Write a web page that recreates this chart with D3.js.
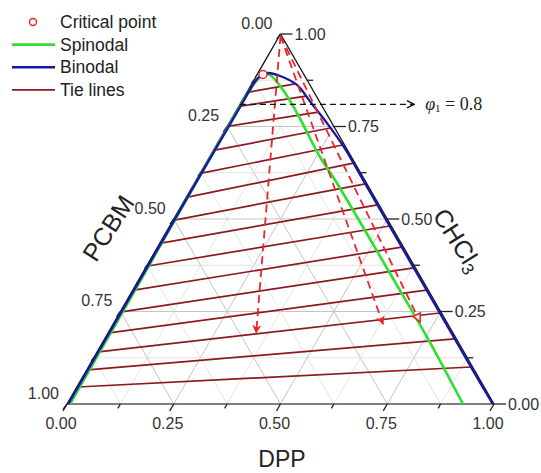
<!DOCTYPE html>
<html>
<head>
<meta charset="utf-8">
<script src="https://cdn.jsdelivr.net/npm/d3@7"></script>
<style>
  body { margin: 0; background: #fff; }
  text { font-family: "Liberation Sans", Arial, sans-serif; }
</style>
</head>
<body>
<script>
// compositions are [DPP, CHCl3]; PCBM = 1 - DPP - CHCl3
const criticalPoint = [0.0137, 0.8905];

const binodalLeft = [[0.0137, 0.8905], [0.008, 0.884], [0.005, 0.875], [0.004, 0.80], [0.003, 0.6], [0.003, 0.3], [0.003, 0]];
const binodalRight = [[0.0137, 0.8905], [0.023, 0.8946], [0.056, 0.8865], [0.1075, 0.8622], [0.160, 0.818],
  [0.229, 0.7595], [0.303, 0.693], [0.40, 0.596], [0.55, 0.446], [0.75, 0.246], [0.90, 0.096], [0.997, 0]];

const spinodalLeft = [[0.0137, 0.8905], [0.006, 0.87], [0.003, 0.75], [0.004, 0.5], [0.006, 0.25], [0.007, 0]];
const spinodalRight = [[0.0137, 0.8905], [0.031, 0.889], [0.0816, 0.8486], [0.1454, 0.7865], [0.2587, 0.6676],
  [0.325, 0.6054], [0.579, 0.354], [0.7526, 0.181], [0.9274, 0]];

// CHCl3 fraction at each end of the tie lines
const tieLeftCHCl3 = [0.843, 0.805, 0.751, 0.686, 0.624, 0.559, 0.497, 0.435, 0.373, 0.308, 0.249, 0.192, 0.141, 0.092, 0.046];
const tieRightCHCl3 = [0.865, 0.832, 0.789, 0.746, 0.700, 0.651, 0.595, 0.538, 0.481, 0.424, 0.368, 0.308, 0.246, 0.176, 0.100];

// red dashed arrows start at the CHCl3 corner
const arrowEnds = [[0.347, 0.192], [0.632, 0.216], [0.716, 0.222]];
const phiLine = { chcl3: 0.81, dppFrom: 0, dppTo: 0.408 };

const tickValues = [0, 0.25, 0.5, 0.75, 1];
const tickLabels = ["0.00", "0.25", "0.50", "0.75", "1.00"];
const minorValues = [0.125, 0.375, 0.625, 0.875];

const legendItems = ["Critical point", "Spinodal", "Binodal", "Tie lines"];

const width = 541, height = 473;
const blue = "#1616a8", green = "#2ee02e", tieColor = "#8a1a1f", red = "#e8262b";

const svg = d3.select("body").append("svg")
  .attr("width", width)
  .attr("height", height);

const x = d3.scaleLinear().domain([0, 1]).range([67, 494]);
const y = d3.scaleLinear().domain([0, 1]).range([404, 34]);
const px = (d, c) => x(d + c / 2);

const line = d3.line()
  .x(p => px(p[0], p[1]))
  .y(p => y(p[1]))
  .curve(d3.curveCatmullRom.alpha(0.5));

const defs = svg.append("defs");
defs.append("marker").attr("id", "headRed")
  .attr("viewBox", "0 0 10 10").attr("refX", 9).attr("refY", 5)
  .attr("markerWidth", 9).attr("markerHeight", 9).attr("markerUnits", "userSpaceOnUse")
  .attr("orient", "auto")
  .append("path").attr("d", "M0,0 L10,5 L0,10 L3,5 Z").attr("fill", red);
defs.append("marker").attr("id", "headOpen")
  .attr("viewBox", "0 0 10 10").attr("refX", 9).attr("refY", 5)
  .attr("markerWidth", 10).attr("markerHeight", 10).attr("markerUnits", "userSpaceOnUse")
  .attr("orient", "auto")
  .append("path").attr("d", "M1,1 L9,5 L1,9 Z").attr("fill", "#fff").attr("stroke", red).attr("stroke-width", 1.6);
defs.append("marker").attr("id", "headBlack")
  .attr("viewBox", "0 0 10 10").attr("refX", 9).attr("refY", 5)
  .attr("markerWidth", 9).attr("markerHeight", 9).attr("markerUnits", "userSpaceOnUse")
  .attr("orient", "auto")
  .append("path").attr("d", "M1,1 L9,5 L1,9").attr("fill", "none").attr("stroke", "#111").attr("stroke-width", 1.6);

// grid
const grid = svg.append("g");
const gridVals = d3.range(1, 8).map(i => i / 8);
gridVals.forEach(v => {
  const major = Math.abs(v * 4 - Math.round(v * 4)) < 1e-9;
  const col = major ? "#c4c4c4" : "#e4e4e4";
  const segs = [
    [[0, v], [1 - v, v]],       // const CHCl3
    [[v, 0], [v, 1 - v]],       // const DPP
    [[0, 1 - v], [1 - v, 0]]    // const PCBM
  ];
  segs.forEach(s => {
    grid.append("line")
      .attr("x1", px(s[0][0], s[0][1])).attr("y1", y(s[0][1]))
      .attr("x2", px(s[1][0], s[1][1])).attr("y2", y(s[1][1]))
      .attr("stroke", col).attr("stroke-width", 1);
  });
});

// triangle frame
svg.append("line").attr("x1", x(0)).attr("y1", y(0)).attr("x2", x(1)).attr("y2", y(0))
  .attr("stroke", "#555").attr("stroke-width", 1.6);
svg.append("line").attr("x1", x(1)).attr("y1", y(0)).attr("x2", px(0, 1)).attr("y2", y(1))
  .attr("stroke", "#111").attr("stroke-width", 1.3);
svg.append("line").attr("x1", x(0)).attr("y1", y(0)).attr("x2", px(0, 1)).attr("y2", y(1))
  .attr("stroke", "#111").attr("stroke-width", 1.3);

// ticks and labels
const allTicks = tickValues.map(v => ({ v, major: true })).concat(minorValues.map(v => ({ v, major: false })));
const axes = svg.append("g").attr("stroke", "#222").attr("stroke-width", 1.3);
allTicks.forEach(t => {
  const len = t.major ? 8 : 5;
  // bottom: DPP
  const bx = x(t.v), by = y(0);
  axes.append("line").attr("x1", bx).attr("y1", by).attr("x2", bx - 0.5 * len).attr("y2", by + 0.866 * len);
  // right: CHCl3
  const rx = px(1 - t.v, t.v), ry = y(t.v);
  axes.append("line").attr("x1", rx).attr("y1", ry).attr("x2", rx + (t.major ? 12 : 6)).attr("y2", ry);
  // left: PCBM
  const lx = px(0, 1 - t.v), ly = y(1 - t.v);
  axes.append("line").attr("x1", lx).attr("y1", ly).attr("x2", lx - 0.6 * len * 0.8).attr("y2", ly + 0.8 * len * 0.8);
});

const labels = svg.append("g").attr("font-size", 16).attr("fill", "#333");
tickValues.forEach((v, i) => {
  labels.append("text").attr("x", x(v) - 6).attr("y", y(0) + 19)
    .attr("text-anchor", "middle").attr("dominant-baseline", "central").text(tickLabels[i]);
  labels.append("text").attr("x", px(1 - v, v) + 14).attr("y", y(v))
    .attr("dominant-baseline", "central").text(tickLabels[i]);
  labels.append("text").attr("x", px(0, 1 - v) - 8).attr("y", y(1 - v) - 11)
    .attr("text-anchor", "end").attr("dominant-baseline", "central").text(tickLabels[i]);
});

// axis titles
svg.append("text").attr("x", 282).attr("y", 459).attr("text-anchor", "middle")
  .attr("dominant-baseline", "central").attr("font-size", 23).attr("fill", "#222").text("DPP");
svg.append("text").attr("transform", "translate(108,228) rotate(-57)").attr("text-anchor", "middle")
  .attr("dominant-baseline", "central").attr("font-size", 25).attr("fill", "#222").text("PCBM");
const chcl = svg.append("text").attr("transform", "translate(458,240) rotate(58)").attr("text-anchor", "middle")
  .attr("dominant-baseline", "central").attr("font-size", 25).attr("fill", "#222");
chcl.append("tspan").text("CHCl");
chcl.append("tspan").attr("font-size", 17).attr("dy", 7).text("3");

// tie lines
const leftD = d3.scaleLinear().domain(binodalLeft.map(p => p[1])).range(binodalLeft.map(p => p[0]));
const rightBranch = binodalRight.slice(1);
const rightD = d3.scaleLinear().domain(rightBranch.map(p => p[1])).range(rightBranch.map(p => p[0]));
const ties = svg.append("g").attr("stroke", tieColor).attr("stroke-width", 1.7);
tieLeftCHCl3.forEach((cl, i) => {
  const cr = tieRightCHCl3[i];
  const dl = leftD(cl), dr = rightD(cr);
  ties.append("line")
    .attr("x1", px(dl, cl)).attr("y1", y(cl))
    .attr("x2", px(dr, cr)).attr("y2", y(cr));
});

// spinodal and binodal
[spinodalLeft, spinodalRight].forEach(s => {
  svg.append("path").attr("d", line(s)).attr("fill", "none").attr("stroke", green).attr("stroke-width", 2.6);
});
[binodalLeft, binodalRight].forEach(s => {
  svg.append("path").attr("d", line(s)).attr("fill", "none").attr("stroke", blue).attr("stroke-width", 2.3);
});

// dashed arrows from the corner
arrowEnds.forEach((e, i) => {
  svg.append("line")
    .attr("x1", px(0, 1)).attr("y1", y(1) + 2)
    .attr("x2", px(e[0], e[1])).attr("y2", y(e[1]))
    .attr("stroke", red).attr("stroke-width", 1.8).attr("stroke-dasharray", "8,5")
    .attr("marker-end", i === 2 ? "url(#headOpen)" : "url(#headRed)");
});

// phi = 0.8 line
svg.append("line")
  .attr("x1", px(phiLine.dppFrom, phiLine.chcl3)).attr("y1", y(phiLine.chcl3))
  .attr("x2", px(phiLine.dppTo, phiLine.chcl3)).attr("y2", y(phiLine.chcl3))
  .attr("stroke", "#111").attr("stroke-width", 1.3).attr("stroke-dasharray", "6,4")
  .attr("marker-end", "url(#headBlack)");
const phi = svg.append("text").attr("x", px(phiLine.dppTo, phiLine.chcl3) + 11).attr("y", y(phiLine.chcl3))
  .attr("dominant-baseline", "central").attr("font-size", 18).attr("fill", "#222")
  .style("font-family", "'Liberation Serif', 'Times New Roman', serif");
phi.append("tspan").attr("font-style", "italic").text("φ");
phi.append("tspan").attr("font-size", 11).attr("dy", 4).text("1");
phi.append("tspan").attr("dy", -4).text(" = 0.8");

// critical point
svg.append("circle").attr("cx", px(criticalPoint[0], criticalPoint[1])).attr("cy", y(criticalPoint[1]))
  .attr("r", 4).attr("fill", "#fff").attr("stroke", red).attr("stroke-width", 1.4);

// legend
const legend = svg.append("g");
const legendColors = [red, green, blue, tieColor];
legendItems.forEach((name, i) => {
  const ly = 22 + i * 22.6;
  if (i === 0) {
    legend.append("circle").attr("cx", 33).attr("cy", ly).attr("r", 3.5)
      .attr("fill", "#fff").attr("stroke", red).attr("stroke-width", 1.4);
  } else {
    legend.append("line").attr("x1", 12).attr("x2", 55).attr("y1", ly).attr("y2", ly)
      .attr("stroke", legendColors[i]).attr("stroke-width", i === 3 ? 1.8 : 2.6);
  }
  legend.append("text").attr("x", 60).attr("y", ly).attr("dominant-baseline", "central")
    .attr("font-size", 17.5).attr("fill", "#222").text(name);
});
</script>
</body>
</html>
